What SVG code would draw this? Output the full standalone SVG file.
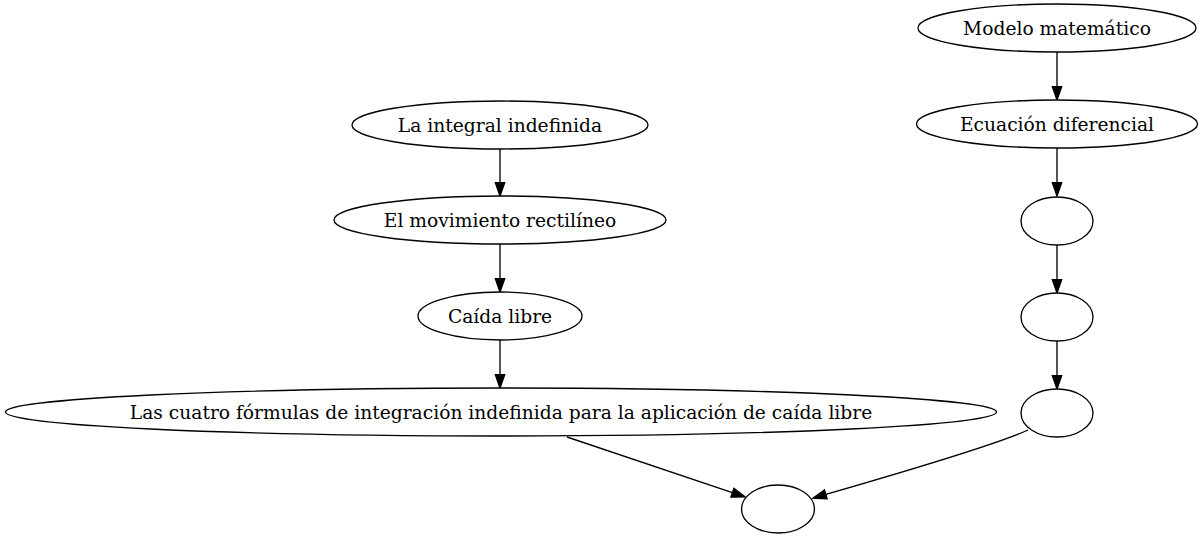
<svg xmlns="http://www.w3.org/2000/svg" width="1202" height="539" viewBox="0 0 1202 539">
  <style>
    .node ellipse { fill: #ffffff; stroke: #000000; stroke-width: 1.33; }
    .node text { font-family: "DejaVu Serif", "Liberation Serif", serif; font-size: 18.67px; fill: #000000; text-anchor: middle; }
    .edge { fill: none; stroke: #000000; stroke-width: 1.33; marker-end: url(#arrow); }
  </style>
  <defs>
    <marker id="arrow" markerUnits="userSpaceOnUse" markerWidth="14" markerHeight="10" refX="0" refY="5" orient="auto" overflow="visible">
      <path d="M0,0.33 L13.33,5 L0,9.67 Z" fill="#000000" stroke="#000000" stroke-width="1.33"/>
    </marker>
  </defs>
  <rect width="1202" height="539" fill="#ffffff"/>

  <g id="connectors">
    <path class="edge" d="M1057,52 L1057,86.7"/>
    <path class="edge" d="M1057,148 L1057,182.7"/>
    <path class="edge" d="M1057,245 L1057,279.7"/>
    <path class="edge" d="M1057,341 L1057,375.7"/>
    <path class="edge" d="M500,149 L500,182.7"/>
    <path class="edge" d="M500,244 L500,278.7"/>
    <path class="edge" d="M500,340 L500,374.7"/>
    <path class="edge" d="M567,437 L732.4,492.7"/>
    <path class="edge" d="M1028,430 C1000,443 900,473 825.8,494.4"/>
  </g>

  <g id="modelo" class="node">
    <ellipse cx="1057" cy="28" rx="139" ry="24"/>
    <text x="1057" y="34.5">Modelo matemático</text>
  </g>
  <g id="ecuacion" class="node">
    <ellipse cx="1057" cy="124" rx="140.5" ry="24"/>
    <text x="1057" y="130.5">Ecuación diferencial</text>
  </g>
  <g id="r1" class="node">
    <ellipse cx="1057" cy="221" rx="36" ry="24"/>
  </g>
  <g id="r2" class="node">
    <ellipse cx="1057" cy="317" rx="36" ry="24"/>
  </g>
  <g id="r3" class="node">
    <ellipse cx="1057" cy="413" rx="36" ry="24"/>
  </g>
  <g id="integral" class="node">
    <ellipse cx="500" cy="125" rx="148" ry="24"/>
    <text x="500" y="131.5">La integral indefinida</text>
  </g>
  <g id="movimiento" class="node">
    <ellipse cx="500" cy="220" rx="166" ry="24"/>
    <text x="500" y="226.5">El movimiento rectilíneo</text>
  </g>
  <g id="caida" class="node">
    <ellipse cx="500" cy="316" rx="82" ry="24"/>
    <text x="500" y="322.5">Caída libre</text>
  </g>
  <g id="formulas" class="node">
    <ellipse cx="501" cy="412" rx="495.5" ry="24"/>
    <text x="501" y="418.5">Las cuatro fórmulas de integración indefinida para la aplicación de caída libre</text>
  </g>
  <g id="final" class="node">
    <ellipse cx="778" cy="509" rx="36.5" ry="24"/>
  </g>
</svg>
